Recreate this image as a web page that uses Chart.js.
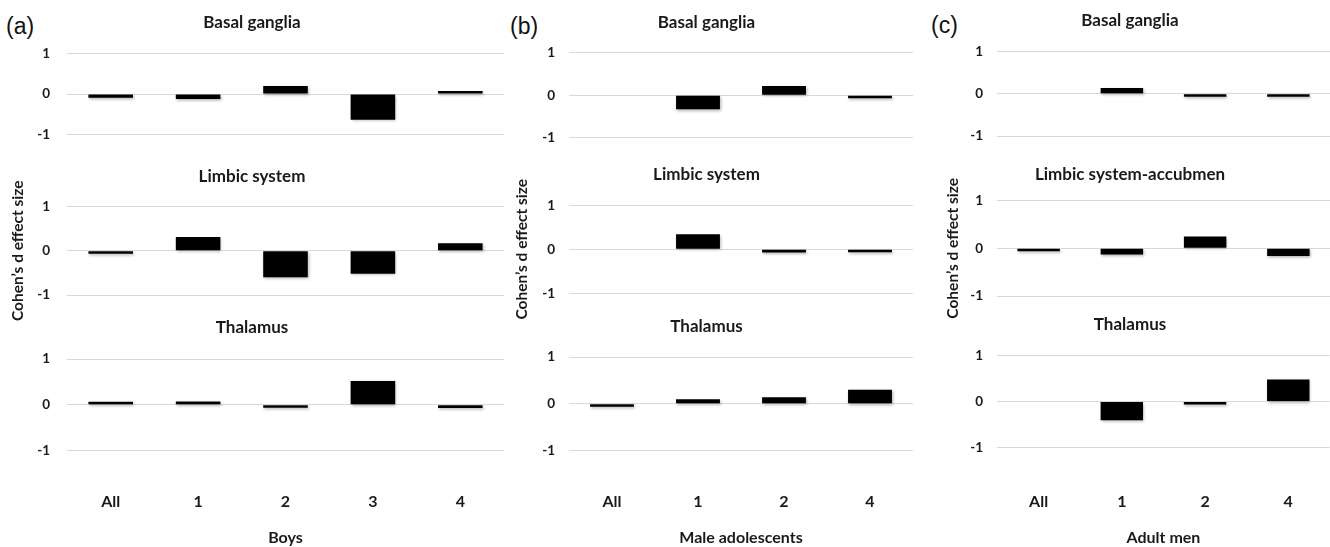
<!DOCTYPE html>
<html>
<head>
<meta charset="utf-8">
<script src="https://cdn.jsdelivr.net/npm/chart.js"></script>
<style>
  html, body { margin: 0; padding: 0; background: #fff; }
  body { width: 1330px; height: 547px; position: relative; overflow: hidden; }
  .box { position: absolute; }
  .tag { position: absolute; font-family: "Liberation Sans", Arial, sans-serif; font-size: 23px; line-height: 24px; color: #111; }
</style>
</head>
<body>
<div class="tag" style="left:6px;top:14px">(a)</div>
<div class="tag" style="left:510px;top:14px">(b)</div>
<div class="tag" style="left:931px;top:13px">(c)</div>

<script>
// Data (Cohen's d effect sizes)
const groups = ["Boys", "Male adolescents", "Adult men"];
const regionsAB = ["Basal ganglia", "Limbic system", "Thalamus"];
const regionsC = ["Basal ganglia", "Limbic system-accubmen", "Thalamus"];

const catsBoys = ["All", "1", "2", "3", "4"];
const catsAdol = ["All", "1", "2", "4"];
const catsMen = ["All", "1", "2", "4"];

const boysBasal = [-0.09, -0.12, 0.20, -0.63, 0.05];
const boysLimbic = [-0.05, 0.31, -0.60, -0.52, 0.17];
const boysThal = [0.02, 0.07, -0.04, 0.52, -0.07];

const adolBasal = [null, -0.33, 0.22, -0.06];
const adolLimbic = [null, 0.34, -0.07, -0.05];
const adolThal = [-0.02, 0.10, 0.14, 0.30];

const menBasal = [null, 0.14, -0.02, -0.07];
const menLimbic = [-0.02, -0.13, 0.25, -0.16];
const menThal = [null, -0.41, -0.03, 0.48];

const yMin = -1, yMax = 1, yStep = 1;
const yTitle = "Cohen\u2019s d effect size";

const panels = [
  { cats: catsBoys, titles: regionsAB, series: [boysBasal, boysLimbic, boysThal] },
  { cats: catsAdol, titles: regionsAB, series: [adolBasal, adolLimbic, adolThal] },
  { cats: catsMen, titles: regionsC, series: [menBasal, menLimbic, menThal] },
];

// Layout in page pixels
const colBox = [
  { left: 0, right: 506, plotLeft: 67, plotRight: 504, tickPad: 17, yTitleX: 18 },
  { left: 500, right: 915, plotLeft: 569, plotRight: 913, tickPad: 14, yTitleX: 522 },
  { left: 930, right: 1330, plotLeft: 997, plotRight: 1330, tickPad: 14, yTitleX: 953 },
];
const rowBox = [{ top: 0, bottom: 160 }, { top: 150, bottom: 340 }, { top: 305, bottom: 547 }];
// [plot top, plot bottom, title centre]
const plotY = [
  [[53.3, 143.5, 23], [206.5, 295, 176.5], [359, 450.5, 328]],
  [[52.7, 138.3, 22.5], [205.3, 293.3, 175], [357, 450.7, 327]],
  [[51.7, 136, 21], [200.7, 296, 175], [355.7, 447.3, 325]],
];

const FONT = "Lato, 'Open Sans', sans-serif";
const TXT = "#1a1a1a";
const TITLE_SIZE = 17;
const TITLE_LH = TITLE_SIZE * 1.2;
const YTITLE_SIZE = 15.5;

// soft shadow under bars, like the original
const barShadow = {
  id: "barShadow",
  beforeDatasetsDraw(chart) {
    const ctx = chart.ctx;
    ctx.save();
    ctx.shadowColor = "rgba(0,0,0,0.3)";
    ctx.shadowBlur = 3;
    ctx.shadowOffsetX = 1;
    ctx.shadowOffsetY = 1.5;
  },
  afterDatasetsDraw(chart) {
    chart.ctx.restore();
  },
};

function addChart(p, r) {
  const col = colBox[p];
  const row = rowBox[r];
  const [areaTop, areaBottom, titleY] = plotY[p][r];
  const panel = panels[p];
  const isBottom = r === 2;
  const isMiddle = r === 1;

  const div = document.createElement("div");
  div.className = "box";
  div.style.left = col.left + "px";
  div.style.top = row.top + "px";
  div.style.width = (col.right - col.left) + "px";
  div.style.height = (row.bottom - row.top) + "px";
  const canvas = document.createElement("canvas");
  div.appendChild(canvas);
  document.body.appendChild(div);

  const padTop = titleY - row.top - TITLE_LH / 2;
  const padBottom = areaTop - row.top - padTop - TITLE_LH;

  new Chart(canvas, {
    type: "bar",
    data: {
      labels: panel.cats,
      datasets: [
        {
          data: panel.series[r],
          backgroundColor: "#000",
          borderWidth: 0,
          barPercentage: 0.51,
          categoryPercentage: 1,
          minBarLength: 3,
        },
      ],
    },
    options: {
      responsive: true,
      maintainAspectRatio: false,
      animation: false,
      devicePixelRatio: 1,
      events: [],
      layout: {
        padding: {
          left: 0,
          top: 0,
          right: col.right - col.plotRight,
          bottom: isBottom ? 0 : row.bottom - areaBottom,
        },
      },
      scales: {
        x: {
          display: isBottom,
          grid: { display: false },
          border: { display: false },
          ticks: {
            font: { family: FONT, size: 16, weight: "bold", lineHeight: 1.2 },
            color: TXT,
            padding: 494 - areaBottom - 9.6,
          },
          title: {
            display: isBottom,
            text: groups[p],
            font: { family: FONT, size: 16, weight: "bold", lineHeight: 1.2 },
            color: TXT,
            padding: { top: 0, bottom: 0 },
          },
          afterFit: (s) => {
            if (isBottom) s.height = row.bottom - areaBottom;
          },
        },
        y: {
          min: yMin,
          max: yMax,
          grid: { color: "#d9d9d9", lineWidth: 1, drawTicks: false },
          border: { display: false },
          ticks: {
            stepSize: yStep,
            font: { family: FONT, size: 13.5, weight: "bold" },
            color: TXT,
            padding: col.tickPad,
          },
          title: {
            display: isMiddle,
            text: yTitle,
            font: { family: FONT, size: YTITLE_SIZE, weight: "bold", lineHeight: 1.2 },
            color: TXT,
            padding: { top: col.yTitleX - col.left - YTITLE_SIZE * 0.6, bottom: 0 },
          },
          afterFit: (s) => {
            s.width = col.plotLeft - col.left;
          },
        },
      },
      plugins: {
        legend: { display: false },
        tooltip: { enabled: false },
        title: {
          display: true,
          text: panel.titles[r],
          font: { family: FONT, size: TITLE_SIZE, weight: "bold", lineHeight: 1.2 },
          color: TXT,
          padding: { top: padTop, bottom: padBottom },
        },
      },
    },
    plugins: [barShadow],
  });
}

for (let p = 0; p < 3; p++) {
  for (let r = 0; r < 3; r++) {
    addChart(p, r);
  }
}
</script>
</body>
</html>
